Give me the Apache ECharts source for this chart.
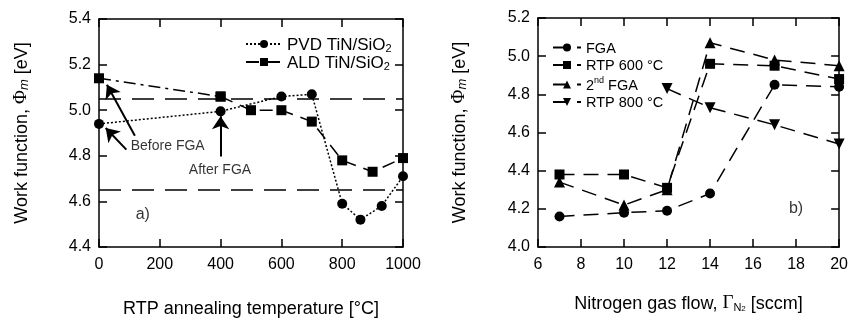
<!DOCTYPE html>
<html><head><meta charset="utf-8">
<script src="https://cdn.jsdelivr.net/npm/echarts@6/dist/echarts.min.js"></script>
<style>html,body{margin:0;padding:0;background:#fff}#c{width:851px;height:323px}</style>
</head><body><div id="c"></div>
<script>
// ---- Panel a) data ----
const pvdTemp = [0, 400, 600, 700, 800, 860, 930, 1000];
const pvdWF   = [4.94, 4.995, 5.06, 5.07, 4.59, 4.52, 4.58, 4.71];
const aldTemp = [0, 400, 500, 600, 700, 800, 900, 1000];
const aldWF   = [5.14, 5.06, 5.0, 5.0, 4.95, 4.78, 4.73, 4.79];
const refWF   = [5.05, 4.65];
const xTicksA = [0, 200, 400, 600, 800, 1000];
const yTicksA = [4.4, 4.6, 4.8, 5.0, 5.2, 5.4];
// ---- Panel b) data ----
const flow      = [7, 10, 12, 14, 17, 20];
const fgaWF     = [4.16, 4.18, 4.19, 4.28, 4.85, 4.84];
const rtp600WF  = [4.38, 4.38, 4.31, 4.96, 4.95, 4.88];
const fga2WF    = [4.34, 4.22, 4.30, 5.07, 4.98, 4.95];
const flow800   = [12, 14, 17, 20];
const rtp800WF  = [4.83, 4.73, 4.64, 4.54];
const xTicksB = [6, 8, 10, 12, 14, 16, 18, 20];
const yTicksB = [4.0, 4.2, 4.4, 4.6, 4.8, 5.0, 5.2];
// ---- annotations (data coords) ----
const annotText = [['Before FGA', 226, 4.844], ['After FGA', 398, 4.739], ['a)', 144, 4.54]];
const annotTextB = [['b)', 18, 4.2]];
const arrows = [[[90, 4.827], [22, 4.922]], [[118, 4.888], [26, 5.112]], [[400, 4.797], [400, 4.973]]];

const pair = (xs, ys) => xs.map((x, i) => [x, ys[i]]);
const F = 'Liberation Sans, Arial, sans-serif';
const black = '#000';
const richBase = {
  n: {fontFamily: F, fontSize: 17, color: black, verticalAlign: 'bottom', lineHeight: 20},
  sub: {fontFamily: F, fontSize: 11, color: black, verticalAlign: 'bottom', lineHeight: 12},
  sup: {fontFamily: F, fontSize: 9, color: black, verticalAlign: 'top', lineHeight: 10},
  phi: {fontFamily: 'Liberation Serif, serif', fontSize: 19, color: black, verticalAlign: 'bottom', lineHeight: 21},
  it: {fontFamily: F, fontSize: 13, fontStyle: 'italic', color: black, verticalAlign: 'bottom', lineHeight: 15},
  t: {fontFamily: F, fontSize: 18, color: black, verticalAlign: 'bottom', lineHeight: 21},
  gam: {fontFamily: 'Liberation Serif, serif', fontSize: 19, color: black, verticalAlign: 'bottom', lineHeight: 21},
  sub2: {fontFamily: F, fontSize: 11, color: black, verticalAlign: 'bottom', lineHeight: 14},
  subsub: {fontFamily: F, fontSize: 8, color: black, verticalAlign: 'bottom', lineHeight: 10}
};

function xAx(grid, min, max, interval, name, gap, pos, show) {
  return {
    gridIndex: grid, type: 'value', min, max, interval, position: pos,
    name: show ? name : '', nameLocation: 'middle', nameGap: gap,
    nameTextStyle: {rich: richBase},
    axisLine: {show: true, onZero: false, lineStyle: {color: black, width: 1.5}},
    axisTick: {show: true, inside: true, length: 8, lineStyle: {color: black, width: 1.5}},
    axisLabel: {show: show, color: black, fontFamily: F, fontSize: 16, margin: 10, formatter: v => String(v)},
    splitLine: {show: false}
  };
}
function yAx(grid, min, max, interval, name, gap, pos, show) {
  return {
    gridIndex: grid, type: 'value', min, max, interval, position: pos,
    name: show ? name : '', nameLocation: 'middle', nameGap: gap, nameRotate: 90,
    nameTextStyle: {rich: richBase},
    axisLine: {show: true, onZero: false, lineStyle: {color: black, width: 1.5}},
    axisTick: {show: true, inside: true, length: 8, lineStyle: {color: black, width: 1.5}},
    axisLabel: {show: show, color: black, fontFamily: F, fontSize: 16, margin: 8, formatter: v => v.toFixed(1)},
    splitLine: {show: false}
  };
}

const chart = echarts.init(document.getElementById('c'), null, {renderer: 'canvas'});
const lineSeries = (name, data, xi, yi, symbol, size, dash, extra) => Object.assign({
  name, type: 'line', data, xAxisIndex: xi, yAxisIndex: yi,
  symbol, symbolSize: size, showAllSymbol: true,
  itemStyle: {color: black}, lineStyle: {color: black, width: 1.5, type: dash},
  emphasis: {disabled: true}, animation: false, z: 3
}, extra || {});

const aldAll = pair(aldTemp, aldWF);
const option = {
  animation: false,
  grid: [
    {left: 99, right: 448, top: 19, bottom: 76},
    {left: 538, right: 11, top: 18, bottom: 76}
  ],
  xAxis: [
    xAx(0, 0, 1000, 200, '{t|RTP annealing temperature [°C]}', 50, 'bottom', true),
    xAx(0, 0, 1000, 200, '', 0, 'top', false),
    xAx(1, 6, 20, 2, '{t|Nitrogen gas flow, }{gam|Γ}{sub2|N}{subsub|2}{t| [sccm]}', 45, 'bottom', true),
    xAx(1, 6, 20, 2, '', 0, 'top', false)
  ],
  yAxis: [
    yAx(0, 4.4, 5.4, 0.2, '{t|Work function, }{phi|Φ}{it|m}{t| [eV]}', 68, 'left', true),
    yAx(0, 4.4, 5.4, 0.2, '', 0, 'right', false),
    yAx(1, 4.0, 5.2, 0.2, '{t|Work function, }{phi|Φ}{it|m}{t| [eV]}', 69, 'left', true),
    yAx(1, 4.0, 5.2, 0.2, '', 0, 'right', false)
  ],
  legend: [
    {
      data: ['PVD TiN/SiO2', 'ALD TiN/SiO2'], orient: 'vertical', left: 240, top: 32,
      itemWidth: 36, itemHeight: 10, itemGap: 1,
      formatter: n => '{n|' + n.slice(0, -1) + '}{sub|2}',
      textStyle: {rich: richBase}
    },
    {
      data: ['FGA', 'RTP 600 °C', '2nd FGA', 'RTP 800 °C'], orient: 'vertical', left: 547, top: 36,
      itemWidth: 28, itemHeight: 10, itemGap: 2.5,
      formatter: n => (n === '2nd FGA' ? '{n|2}{sup|nd}{n| FGA}' : '{n|' + n + '}'),
      textStyle: {rich: Object.assign({}, richBase, {n: Object.assign({}, richBase.n, {fontSize: 14.5, lineHeight: 17})})}
    }
  ],
  series: [
    lineSeries('PVD TiN/SiO2', pair(pvdTemp, pvdWF), 0, 0, 'circle', 10, [2, 2]),
    lineSeries('ALD TiN/SiO2', aldAll.slice(1), 0, 0, 'rect', 10, [13, 8]),
    lineSeries('ALD start', aldAll.slice(0, 2), 0, 0, 'rect', 10, [12, 5, 3, 5]),
    {
      name: 'annotA', type: 'scatter', xAxisIndex: 0, yAxisIndex: 0, symbolSize: 1,
      itemStyle: {color: 'rgba(0,0,0,0)'}, silent: true, animation: false,
      data: annotText.map(a => ({value: [a[1], a[2]], label: {formatter: a[0], fontSize: a[0] === 'a)' ? 16 : 14}})),
      label: {show: true, position: 'inside', color: black, fontFamily: F, fontSize: 14},
      markLine: {
        silent: true, animation: false, symbol: 'none', symbolSize: 13,
        label: {show: false},
        lineStyle: {color: black, width: 2, type: 'solid'},
        data: arrows.map(a => [
          {coord: a[0], symbol: 'none'},
          {coord: a[1], symbol: 'arrow', symbolSize: 13}
        ]).concat(refWF.map(v => ({yAxis: v, lineStyle: {type: [22, 11], width: 1.5}})))
      },
      z: 2
    },
    lineSeries('FGA', pair(flow, fgaWF), 2, 2, 'circle', 10, [15, 9]),
    lineSeries('RTP 600 °C', pair(flow, rtp600WF), 2, 2, 'rect', 10, [15, 9]),
    lineSeries('2nd FGA', pair(flow, fga2WF), 2, 2, 'triangle', 11, [15, 9]),
    lineSeries('RTP 800 °C', pair(flow800, rtp800WF), 2, 2, 'triangle', 11, [15, 9], {symbolRotate: 180}),
    {
      name: 'annotB', type: 'scatter', xAxisIndex: 2, yAxisIndex: 2, symbolSize: 1,
      itemStyle: {color: 'rgba(0,0,0,0)'}, silent: true, animation: false,
      data: annotTextB.map(a => ({value: [a[1], a[2]], label: {formatter: a[0]}})),
      label: {show: true, position: 'inside', color: black, fontFamily: F, fontSize: 16}
    }
  ]
};
chart.setOption(option);
</script></body></html>
